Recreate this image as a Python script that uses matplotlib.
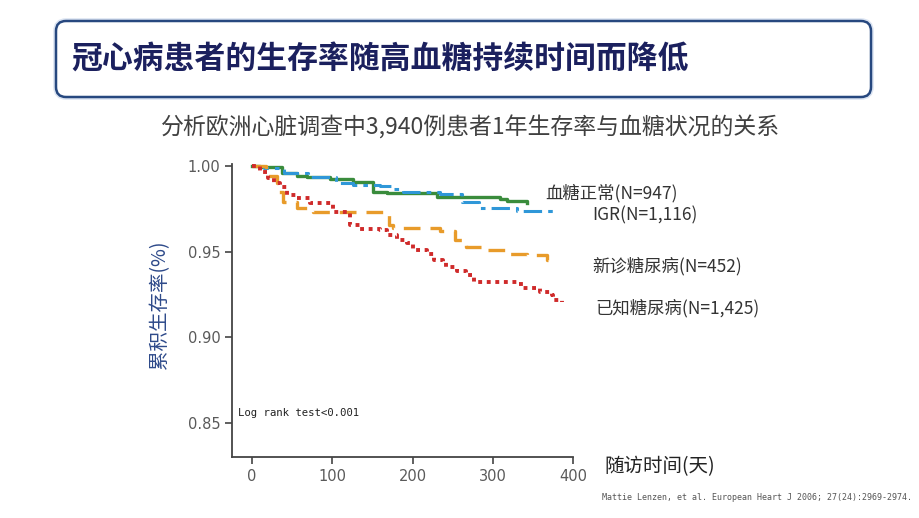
import matplotlib
matplotlib.use("Agg")
import matplotlib.pyplot as plt
from matplotlib.patches import FancyBboxPatch

plt.rcParams['font.family'] = ['Noto Sans CJK SC', 'DejaVu Sans']

# survival curves (days, cumulative survival)
green_t = [0, 10, 37, 56, 68, 97, 126, 151, 168, 230, 309, 317, 342]
green_s = [1.0, 0.9996, 0.9957, 0.9942, 0.9935, 0.9922, 0.9905, 0.9850, 0.9840, 0.9821, 0.9805, 0.9797, 0.9782]

blue_t = [0, 15, 40, 70, 105, 126, 159, 176, 188, 234, 261, 282, 330, 379]
blue_s = [1.0, 0.9990, 0.9960, 0.9935, 0.9899, 0.9890, 0.9883, 0.9869, 0.9850, 0.9836, 0.9791, 0.9758, 0.9739, 0.9739]

orange_t = [0, 18, 31, 33, 39, 56, 76, 168, 170, 176, 222, 234, 253, 267, 288, 317, 321, 342, 363, 367, 370]
orange_s = [1.0, 0.9942, 0.9899, 0.9850, 0.9791, 0.9753, 0.9733, 0.9733, 0.9655, 0.9641, 0.9641, 0.9620, 0.9567,
            0.9528, 0.9513, 0.9509, 0.9489, 0.9483, 0.9480, 0.9450, 0.9445]

red_t = [0, 10, 20, 27, 35, 43, 56, 72, 101, 122, 135, 159, 168, 180, 193, 201, 218, 226, 238, 242, 255, 267,
         276, 330, 338, 359, 373, 375, 386]
red_s = [1.0, 0.9967, 0.9928, 0.9899, 0.9879, 0.9830, 0.9811, 0.9782, 0.9733, 0.9655, 0.9630, 0.9626, 0.9596,
         0.9567, 0.9552, 0.9509, 0.9489, 0.9450, 0.9441, 0.9411, 0.9388, 0.9363, 0.9324, 0.9314, 0.9290, 0.9265,
         0.9246, 0.9216, 0.9207]

group_labels = ['血糖正常(N=947)', 'IGR(N=1,116)', '新诊糖尿病(N=452)', '已知糖尿病(N=1,425)']
x_ticks = [0, 100, 200, 300, 400]
y_ticks = [0.85, 0.90, 0.95, 1.00]

fig = plt.figure(figsize=(9.2, 5.18), dpi=100)

# background layer in pixel coords for the slide decorations
bg = fig.add_axes([0, 0, 1, 1])
bg.set_xlim(0, 920)
bg.set_ylim(518, 0)
bg.axis('off')

bg.add_patch(FancyBboxPatch((56, 21), 815, 76, boxstyle='round,pad=0,rounding_size=10',
                            ec='#dbe4f2', lw=4, fc='white'))
bg.add_patch(FancyBboxPatch((56, 21), 815, 76, boxstyle='round,pad=0,rounding_size=10',
                            ec='#27487f', lw=1.8, fc='white'))
bg.text(71, 60, '冠心病患者的生存率随高血糖持续时间而降低', fontsize=22.2, fontweight='bold',
        color='#1b205e', ha='left', va='center')
bg.text(471, 128, '分析欧洲心脏调查中3,940例患者1年生存率与血糖状况的关系', fontsize=16.5,
        color='#404040', ha='center', va='center')

bg.text(545, 193, group_labels[0], fontsize=12.5, color='#333333', ha='left', va='center')
bg.text(592, 215, group_labels[1], fontsize=12.5, color='#333333', ha='left', va='center')
bg.text(592, 266, group_labels[2], fontsize=12.5, color='#333333', ha='left', va='center')
bg.text(595, 308, group_labels[3], fontsize=12.5, color='#333333', ha='left', va='center')

bg.text(160, 305, '累积生存率(%)', fontsize=14, color='#2e4a8a', rotation=90, ha='center', va='center')
bg.text(604, 467, '随访时间(天)', fontsize=14, color='#222222', ha='left', va='center')
bg.text(238, 413, 'Log rank test<0.001', fontsize=7.7, family='DejaVu Sans Mono', color='#222222',
        ha='left', va='center')
bg.text(912, 497, 'Mattie Lenzen, et al. European Heart J 2006; 27(24):2969-2974.', fontsize=6,
        family='DejaVu Sans Mono', color='#555555', ha='right', va='center')

# main chart
ax = fig.add_axes([232.3 / 920, 1 - 457 / 518, (573.3 - 232.3) / 920, (457 - 164) / 518])
ax.patch.set_alpha(0)

ax.step(green_t, green_s, where='post', color='#3a8c3c', lw=2.4)
ax.step(blue_t, blue_s, where='post', color='#2f97d8', lw=2.2, linestyle=(0, (6, 2, 1.5, 2)))
ax.step(orange_t, orange_s, where='post', color='#e89b2a', lw=2.4, linestyle=(0, (5, 3)))
ax.step(red_t, red_s, where='post', color='#cf2a2a', lw=2.8, linestyle=(0, (1, 1.2)))

ax.set_xlim(-24.5, 400)
ax.set_ylim(0.8302, 1.0012)
ax.set_xticks(x_ticks)
ax.set_yticks(y_ticks)
ax.set_yticklabels(['%.2f' % v for v in y_ticks])
ax.spines['top'].set_visible(False)
ax.spines['right'].set_visible(False)
for s in ['left', 'bottom']:
    ax.spines[s].set_color('#444444')
    ax.spines[s].set_linewidth(1.3)
ax.tick_params(direction='out', length=5, width=1.2, color='#444444', labelsize=10.5,
               labelcolor='#5a5a5a')
for lab in ax.get_xticklabels() + ax.get_yticklabels():
    lab.set_family('DejaVu Sans')

fig.savefig('out.png', dpi=100)
